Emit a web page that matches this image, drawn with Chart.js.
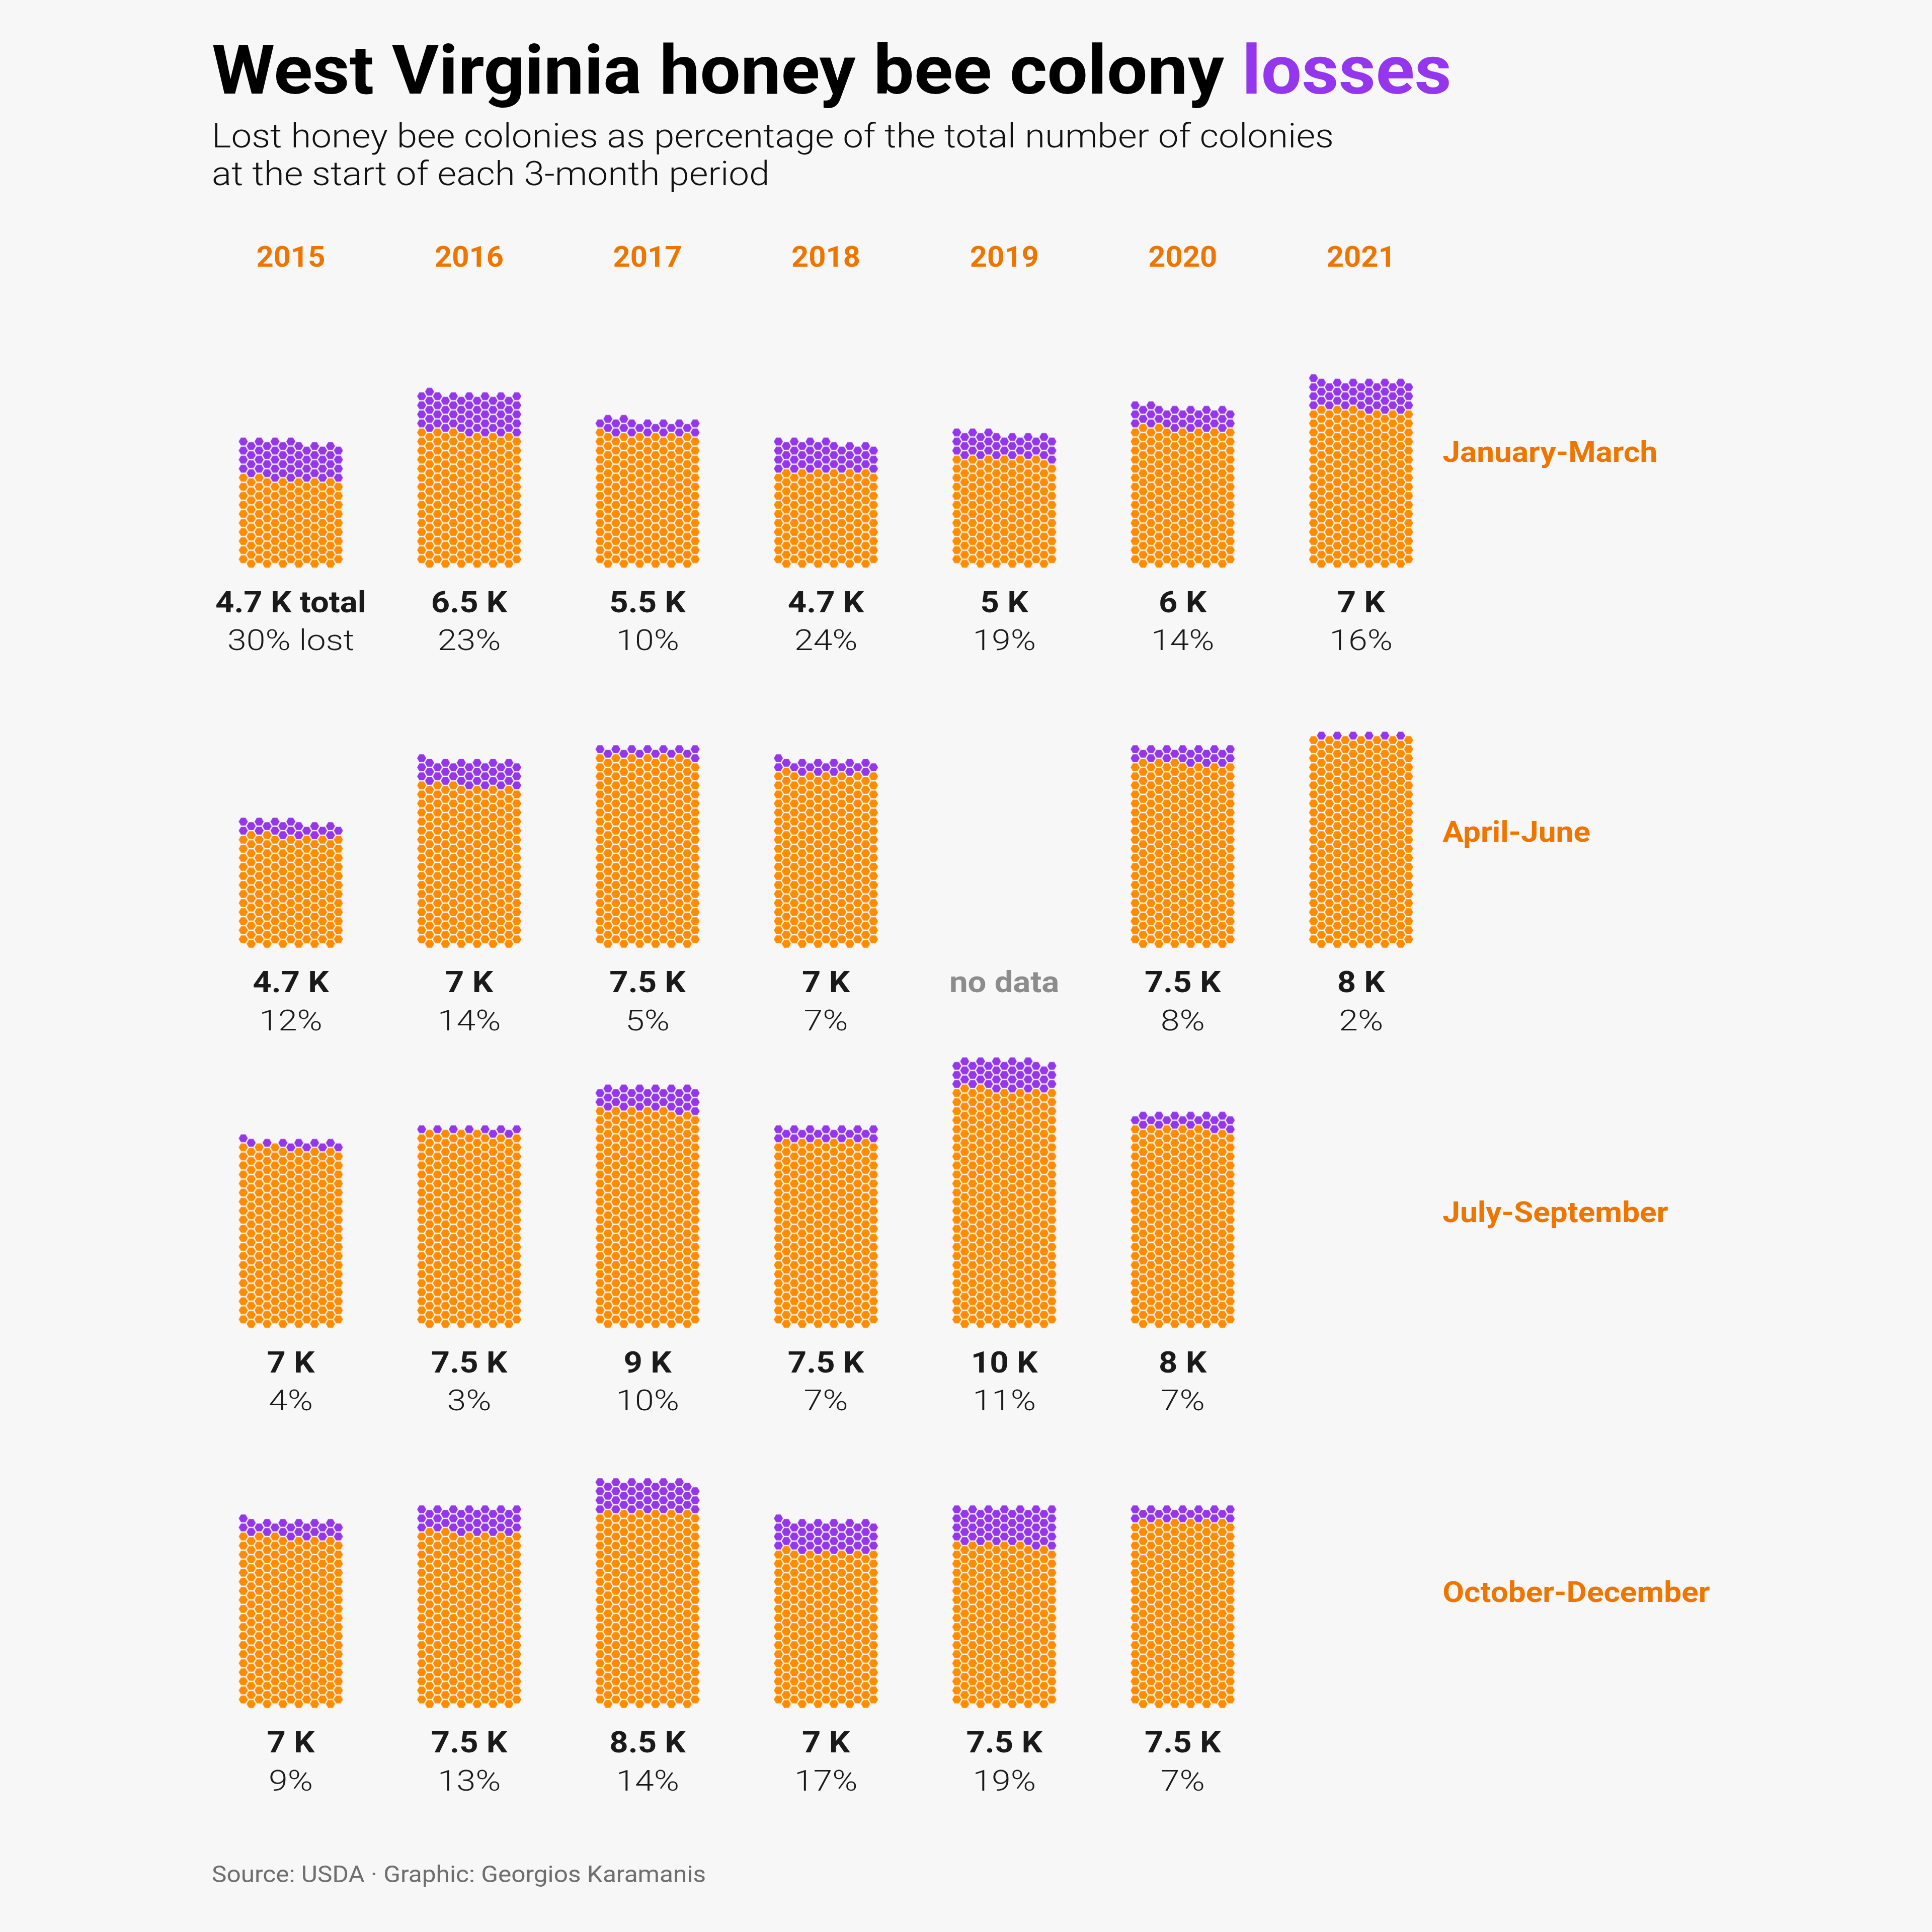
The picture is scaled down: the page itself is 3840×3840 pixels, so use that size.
<!DOCTYPE html>
<html>
<head>
<meta charset="utf-8">
<script src="https://cdn.jsdelivr.net/npm/chart.js@4.4.1/dist/chart.umd.min.js"></script>
<style>
  html, body { margin: 0; padding: 0; background: #F7F7F7; }
  canvas { display: block; }
</style>
</head>
<body>
<canvas id="chart" width="3840" height="3840" style="width:3840px;height:3840px"></canvas>
<script>
// ---------------- DATA ----------------
const years = ["2015", "2016", "2017", "2018", "2019", "2020", "2021"];
const quarters = ["January-March", "April-June", "July-September", "October-December"];

const totalJanMar   = [4700, 6500, 5500, 4700, 5000, 6000, 7000];
const lostPctJanMar = [30, 23, 10, 24, 19, 14, 16];
const totalAprJun   = [4700, 7000, 7500, 7000, null, 7500, 8000];
const lostPctAprJun = [12, 14, 5, 7, null, 8, 2];
const totalJulSep   = [7000, 7500, 9000, 7500, 10000, 8000, null];
const lostPctJulSep = [4, 3, 10, 7, 11, 7, null];
const totalOctDec   = [7000, 7500, 8500, 7000, 7500, 7500, null];
const lostPctOctDec = [9, 13, 14, 17, 19, 7, null];

const titleMain = "West Virginia honey bee colony ";
const titleHighlight = "losses";
const subtitleLines = [
  "Lost honey bee colonies as percentage of the total number of colonies",
  "at the start of each 3-month period"
];
const sourceText = "Source: USDA \u00B7 Graphic: Georgios Karamanis";
const noDataText = "no data";
const noDataCell = [1, 4]; // quarter index, year index flagged as missing in the source

const totals = [totalJanMar, totalAprJun, totalJulSep, totalOctDec];
const lostPcts = [lostPctJanMar, lostPctAprJun, lostPctJulSep, lostPctOctDec];

// ---------------- LAYOUT / STYLE ----------------
const COLONIES_PER_HEX = 26.2;
const HEX_COLS = 13;
const YEAR_PX = 356.2;        // distance between year columns
const FIRST_YEAR_PX = 571.7;  // centre of first year column
const QUARTER_PX = 759;       // distance between quarter rows
const FIRST_BASE_PX = 1116.7; // centre of lowest hex of first row
const COL_PX = 15.83;         // hex column step
const LEVEL_PX = 9.04;        // half row step
const HEX_R = 9;

const ORANGE = "#FF8C00";
const PURPLE = "#9437EC";
const LABEL_ORANGE = "#EE7600";
const FONT = "Roboto, 'Liberation Sans', sans-serif";

const colStep = COL_PX / YEAR_PX;
const levelStep = LEVEL_PX / QUARTER_PX;
const xMin = -FIRST_YEAR_PX / YEAR_PX;
const xMax = xMin + 3840 / YEAR_PX;
const yMin = -FIRST_BASE_PX / QUARTER_PX;
const yMax = yMin + 3840 / QUARTER_PX;

// ---------------- BUILD HEX POINTS ----------------
function hexPositions(n) {
  const pos = [];
  let level = 0;
  while (pos.length < n) {
    const start = level % 2 === 0 ? 1 : 0;
    for (let c = start; c < HEX_COLS && pos.length < n; c += 2) {
      pos.push({ col: c, level: level });
    }
    level++;
  }
  return pos;
}

const survivingPts = [];
const lostPts = [];
totals.forEach((row, q) => {
  row.forEach((total, yi) => {
    if (total == null) return;
    const n = Math.round(total / COLONIES_PER_HEX);
    const lost = Math.round(n * lostPcts[q][yi] / 100);
    hexPositions(n).forEach((p, k) => {
      const pt = { x: yi + (p.col - (HEX_COLS - 1) / 2) * colStep, y: q - p.level * levelStep };
      (k < n - lost ? survivingPts : lostPts).push(pt);
    });
  });
});

function hexSprite(color) {
  const c = document.createElement("canvas");
  c.width = 22; c.height = 20;
  const g = c.getContext("2d");
  g.fillStyle = color;
  g.beginPath();
  for (let i = 0; i < 6; i++) {
    const a = Math.PI / 3 * i;
    const x = 11 + HEX_R * Math.cos(a), y = 10 + HEX_R * Math.sin(a);
    if (i === 0) g.moveTo(x, y); else g.lineTo(x, y);
  }
  g.closePath();
  g.fill();
  return c;
}

// ---------------- TEXT HELPERS ----------------
function fitScale(ctx, font, ref, target) {
  ctx.save(); ctx.font = font;
  const w = ctx.measureText(ref).width;
  ctx.restore();
  return target / w;
}
function drawText(ctx, text, x, y, font, color, align, sx) {
  ctx.save();
  ctx.font = font;
  ctx.fillStyle = color;
  ctx.textBaseline = "alphabetic";
  ctx.textAlign = align;
  ctx.translate(x, y);
  ctx.scale(sx, 1);
  ctx.fillText(text, 0, 0);
  ctx.restore();
}

const fmtK = v => (v / 1000).toString() + " K";

const labelPlugin = {
  id: "honeyLabels",
  afterDatasetsDraw(chart) {
    const ctx = chart.ctx;
    const xs = chart.scales.x, ys = chart.scales.y;

    // Title
    const titleFont = `700 136px ${FONT}`;
    const tScale = fitScale(ctx, titleFont, titleMain + titleHighlight, 2464);
    ctx.save();
    ctx.font = titleFont;
    ctx.textBaseline = "alphabetic";
    ctx.translate(421, 186);
    ctx.scale(tScale, 1);
    ctx.fillStyle = "#000000";
    ctx.fillText(titleMain, 0, 0);
    const w1 = ctx.measureText(titleMain).width;
    ctx.fillStyle = PURPLE;
    ctx.fillText(titleHighlight, w1, 0);
    ctx.restore();

    // Subtitle
    const subFont = `300 67px ${FONT}`;
    const sScale = fitScale(ctx, subFont, subtitleLines[0], 2230);
    subtitleLines.forEach((line, i) => drawText(ctx, line, 421, 293 + i * 75, subFont, "#111111", "left", sScale));

    // Source
    const srcFont = `400 47px ${FONT}`;
    drawText(ctx, sourceText, 421, 3741, srcFont, "#6E6E6E", "left", fitScale(ctx, srcFont, sourceText, 982));

    // Year labels
    const yearFont = `700 58px ${FONT}`;
    const yrScale = fitScale(ctx, yearFont, "2015", 137);
    const top0 = ys.getPixelForValue(0);
    years.forEach((yr, i) => drawText(ctx, yr, xs.getPixelForValue(i), top0 - 590.7, yearFont, LABEL_ORANGE, "center", yrScale));

    // Quarter labels
    const qFont = `700 58px ${FONT}`;
    const qScale = fitScale(ctx, qFont, "January-March", 427);
    quarters.forEach((qn, q) => drawText(ctx, qn, xs.getPixelForValue(years.length - 1) + 162, ys.getPixelForValue(q) - 202.7, qFont, LABEL_ORANGE, "left", qScale));

    // Value / percentage labels
    const valFont = `700 60px ${FONT}`;
    const valScale = fitScale(ctx, valFont, "4.7 K total", 300);
    const pctFont = `300 57px ${FONT}`;
    const pctScale = fitScale(ctx, pctFont, "30% lost", 252);
    totals.forEach((row, q) => {
      const base = ys.getPixelForValue(q);
      row.forEach((total, yi) => {
        const cx = xs.getPixelForValue(yi);
        if (total == null) {
          if (q === noDataCell[0] && yi === noDataCell[1]) {
            drawText(ctx, noDataText, cx, base + 96.3, valFont, "#8C8C8C", "center", valScale);
          }
          return;
        }
        const first = (q === 0 && yi === 0);
        drawText(ctx, fmtK(total) + (first ? " total" : ""), cx, base + 96.3, valFont, "#1A1A1A", "center", valScale);
        drawText(ctx, lostPcts[q][yi] + "%" + (first ? " lost" : ""), cx, base + 171.8, pctFont, "#1A1A1A", "center", pctScale);
      });
    });
  }
};

new Chart(document.getElementById("chart"), {
  type: "scatter",
  data: {
    datasets: [
      { label: "Surviving colonies", data: survivingPts, pointStyle: hexSprite(ORANGE), pointRadius: HEX_R, backgroundColor: ORANGE, borderWidth: 0 },
      { label: "Lost colonies", data: lostPts, pointStyle: hexSprite(PURPLE), pointRadius: HEX_R, backgroundColor: PURPLE, borderWidth: 0 }
    ]
  },
  options: {
    responsive: false,
    animation: false,
    events: [],
    devicePixelRatio: 1,
    layout: { padding: 0 },
    plugins: { legend: { display: false }, tooltip: { enabled: false }, title: { display: false } },
    scales: {
      x: { type: "linear", min: xMin, max: xMax, display: false },
      y: { type: "linear", min: yMin, max: yMax, reverse: true, display: false }
    }
  },
  plugins: [labelPlugin]
});
</script>
</body>
</html>
